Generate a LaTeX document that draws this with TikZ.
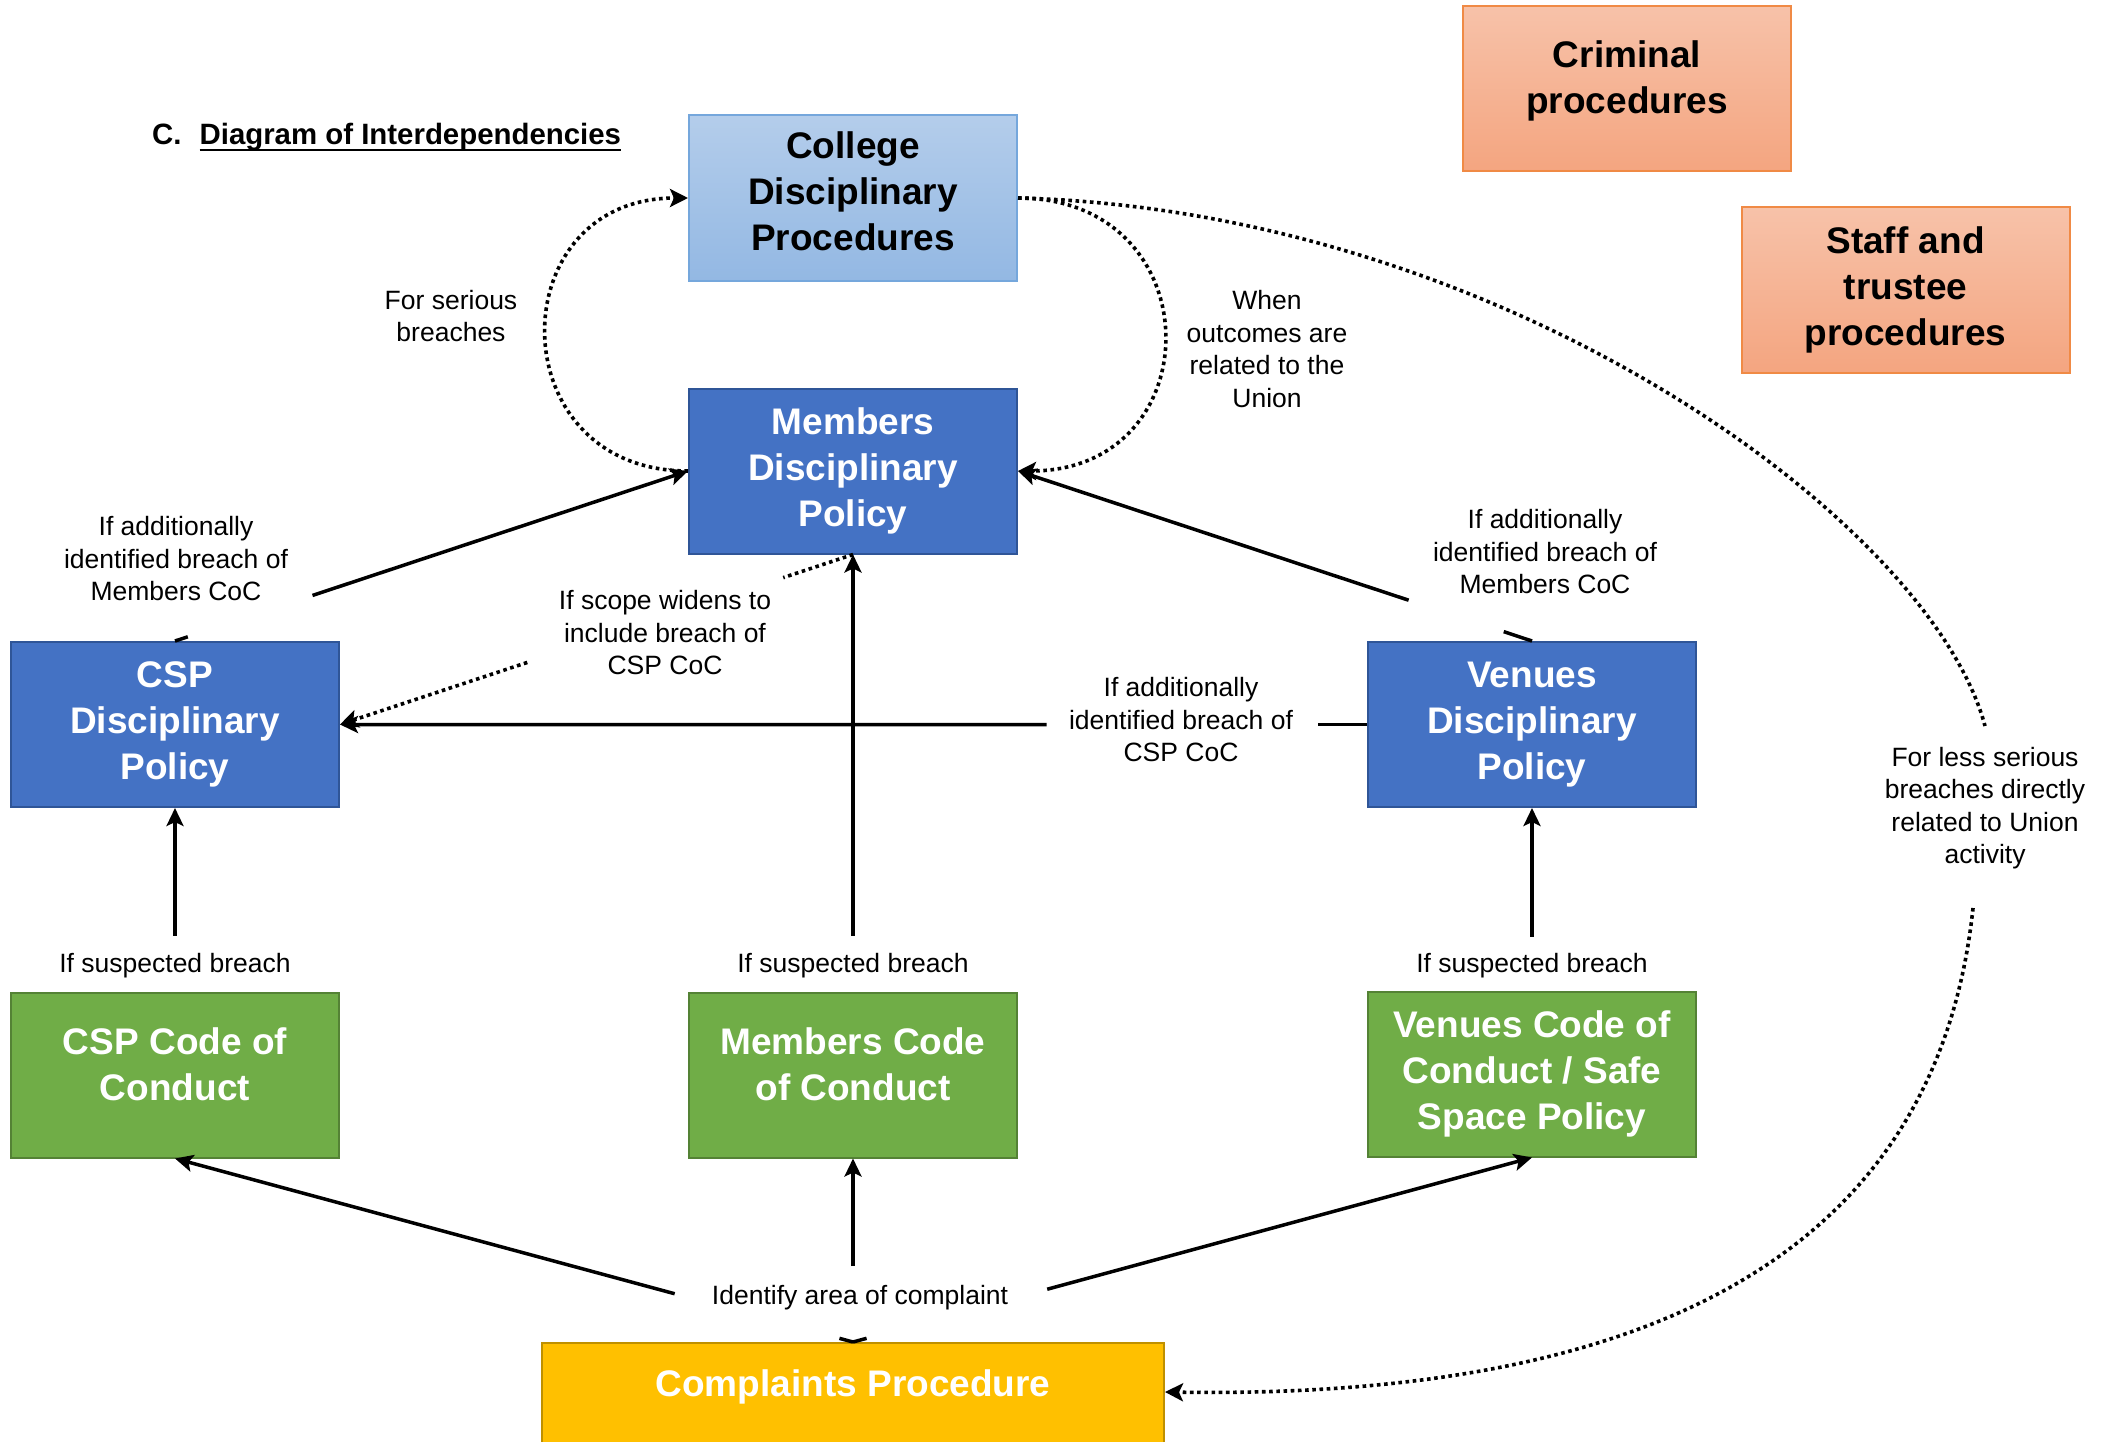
\documentclass[tikz,border=0pt]{standalone}
\usepackage{fontspec}
\setmainfont{Liberation Sans}
\usetikzlibrary{arrows.meta,calc}
\definecolor{cBlue}{HTML}{4472C4}
\definecolor{cBlueD}{HTML}{2F5597}
\definecolor{cGreen}{HTML}{70AD47}
\definecolor{cGreenD}{HTML}{548235}
\definecolor{cYel}{HTML}{FFC000}
\definecolor{cYelD}{HTML}{BF9000}
\definecolor{cLtTop}{HTML}{B4CDEB}
\definecolor{cLtBot}{HTML}{93B8E3}
\definecolor{cLtD}{HTML}{75A7DC}
\definecolor{cOrTop}{HTML}{F7C2A9}
\definecolor{cOrBot}{HTML}{F4A580}
\definecolor{cOrD}{HTML}{F08A45}
\newcommand{\ulbold}[1]{\setbox0\hbox{#1}\rlap{\rule[-6.5pt]{\wd0}{2.7pt}}\box0}
\newcommand{\bxup}[2]{\raisebox{#1}[\height][\depth]{\begin{tabular}{@{}c@{}}#2\end{tabular}}}
\begin{document}
\begin{tikzpicture}[x=1pt,y=-1pt,
  basebox/.style={rectangle, minimum width=328pt, minimum height=165pt, inner sep=0pt, line width=2pt, font=\bfseries\fontsize{37}{46}\selectfont},
  box/.style={basebox, align=center},
  bluebox/.style={box, fill=cBlue, draw=cBlueD, text=white},
  greenbox/.style={box, fill=cGreen, draw=cGreenD, text=white},
  ltbox/.style={box, top color=cLtTop, bottom color=cLtBot, draw=cLtD, text=black},
  orbox/.style={box, top color=cOrTop, bottom color=cOrBot, draw=cOrD, text=black},
  lbl/.style={font=\fontsize{26.5}{32.5}\selectfont, align=center, inner sep=0pt},
  ln/.style={line width=3.5pt},
  arr/.style={ln, -{Stealth[length=18pt,width=17pt,inset=4pt]}},
  dotl/.style={line width=3.6pt, dash pattern=on 3.6pt off 3.6pt},
  dotarr/.style={dotl, -{Stealth[length=18pt,width=18pt,inset=4pt]}}
]
\useasboundingbox (0,0) rectangle (2107,1442);
\fill[white] (0,0) rectangle (2107,1442);
\clip (0,0) rectangle (2107,1442);

% title
\node[anchor=base west, inner sep=0pt, font=\bfseries\fontsize{29.4}{35}\selectfont] (title) at (152,145) {C.\hspace{18pt}\ulbold{Diagram of Interdependencies}};

% boxes
\node[ltbox] (cdp) at (853,198) {\bxup{2.3pt}{College\\Disciplinary\\Procedures}};
\node[orbox] (crim) at (1627,88.5) {\bxup{7.3pt}{Criminal\\procedures}};
\node[orbox] (staff) at (1905.5,290) {Staff and\\trustee\\procedures};
\node[bluebox] (mdp) at (853,471) {Members\\Disciplinary\\Policy};
\node[bluebox] (cspd) at (175,724.5) {CSP\\Disciplinary\\Policy};
\node[bluebox] (vd) at (1532,724.5) {Venues\\Disciplinary\\Policy};
\node[greenbox] (cspc) at (175,1075) {\bxup{7pt}{CSP Code of\\Conduct}};
\node[greenbox] (mc) at (853,1075) {\bxup{7pt}{Members Code\\of Conduct}};
\node[greenbox] (vc) at (1532,1074) {Venues Code of\\Conduct / Safe\\Space Policy};
\node[basebox, minimum width=622pt, fill=cYel, draw=cYelD, text=white, text height=27pt, text depth=86pt] (cp) at (853,1425.5) {Complaints Procedure};

% labels
\node[lbl] (lser) at (451,316) {For serious\\breaches};
\node[lbl] (lwhen) at (1267,349) {When\\outcomes are\\related to the\\Union};
\node[lbl] (laddl) at (176,559) {If additionally\\identified breach of\\Members CoC};
\node[lbl] (laddr) at (1545,552) {If additionally\\identified breach of\\Members CoC};
\node[lbl] (lscope) at (665,633) {If scope widens to\\include breach of\\CSP CoC};
\node[lbl] (lcsp) at (1181,720) {If additionally\\identified breach of\\CSP CoC};
\node[lbl] (lless) at (1985,808) {For less serious\\breaches directly\\related to Union\\activity};
\node[lbl] (ls1) at (175,966) {If suspected breach};
\node[lbl] (ls2) at (853,966) {If suspected breach};
\node[lbl] (ls3) at (1532,966) {If suspected breach};
\node[lbl] (lid) at (860,1298) {Identify area of complaint};

% suspected breach connectors
\draw[arr] ($(cspc.north)+(0,-56)$) -- (cspd.south);
\draw[arr] ($(mc.north)+(0,-56)$) -- (mdp.south);
\draw[arr] ($(vc.north)+(0,-54)$) -- (vd.south);

% complaints connectors
\draw[ln] (cp.north) -- ($(cp.north)!0.02!(cspc.south)$);
\draw[arr] ($(cp.north)!0.263!(cspc.south)$) -- (cspc.south);
\draw[arr] ($(cp.north)!0.414!(mc.south)$) -- (mc.south);
\draw[ln] (cp.north) -- ($(cp.north)!0.02!(vc.south)$);
\draw[arr] ($(cp.north)!0.286!(vc.south)$) -- (vc.south);

% to members disciplinary
\draw[ln] (cspd.north) -- ($(cspd.north)!0.025!(mdp.west)$);
\draw[arr] ($(cspd.north)!0.268!(mdp.west)$) -- (mdp.west);
\draw[ln] (vd.north) -- ($(vd.north)!0.055!(mdp.east)$);
\draw[arr] ($(vd.north)!0.24!(mdp.east)$) -- (mdp.east);

% venues -> csp
\draw[ln] (vd.west) -- ($(vd.west)!0.048!(cspd.east)$);
\draw[arr] ($(vd.west)!0.312!(cspd.east)$) -- (cspd.east);

% scope widens
\draw[dotl] (mdp.south) -- ($(mdp.south)!0.136!(cspd.east)$);
\draw[dotarr] ($(mdp.south)!0.635!(cspd.east)$) -- (cspd.east);

% curved dotted
\draw[dotarr] (mdp.west) .. controls +(-189,0) and +(-189,0) .. (cdp.west);
\draw[dotarr] (cdp.east) .. controls +(195,0) and +(195,0) .. (mdp.east);

\coordinate (g1) at (1985,726);
\coordinate (g2) at (1973,908);
\draw[dotl] (cdp.east) .. controls (1500,210) and (1930,520) .. (g1);
\draw[dotarr] (g2) .. controls (1940,1220) and (1700,1400) .. ($(cp.north east)+(0,50)$);
\end{tikzpicture}
\end{document}
